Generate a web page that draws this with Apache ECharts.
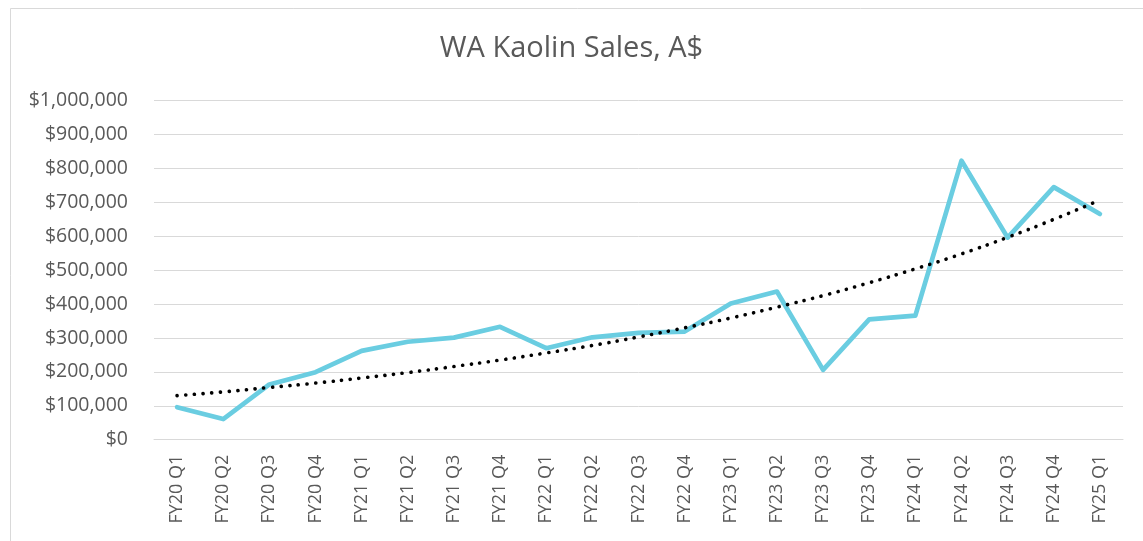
<!DOCTYPE html>
<html>
<head>
<meta charset="utf-8">
<script src="https://cdn.jsdelivr.net/npm/echarts@6/dist/echarts.min.js"></script>
<style>
html,body{margin:0;padding:0;background:#fff;}
#chart{width:1143px;height:541px;}
</style>
</head>
<body>
<div id="chart"></div>
<script>
const categories = ["FY20 Q1","FY20 Q2","FY20 Q3","FY20 Q4","FY21 Q1","FY21 Q2","FY21 Q3","FY21 Q4","FY22 Q1","FY22 Q2","FY22 Q3","FY22 Q4","FY23 Q1","FY23 Q2","FY23 Q3","FY23 Q4","FY24 Q1","FY24 Q2","FY24 Q3","FY24 Q4","FY25 Q1"];
const salesValues = [96000,61000,163000,199000,262000,289000,301000,333000,270000,302000,315000,319000,402000,437000,206000,355000,366000,823000,596000,745000,666000];
const trendValues = [130000,141000,154000,167000,182000,198000,216000,235000,256000,278000,303000,330000,359000,391000,425000,463000,504000,548000,597000,650000,707000];
const yTicks = {min:0, max:1000000, interval:100000};
const titleText = "WA Kaolin Sales, A$";

const chart = echarts.init(document.getElementById('chart'), null, {renderer:'canvas'});
const fmt = v => '$' + v.toLocaleString('en-US');
chart.setOption({
  animation:false,
  backgroundColor:'#fff',
  graphic:[{type:'rect', shape:{x:10.5,y:8.5,width:1140,height:540}, style:{fill:'none',stroke:'#D9D9D9',lineWidth:1}, silent:true}],
  title:{text:titleText, left:'center', top:29, textStyle:{fontFamily:'Open Sans', fontSize:29, fontWeight:'normal', color:'#595959'}},
  grid:{left:154, right:20, top:100.7, bottom:101.3},
  xAxis:{type:'category', data:categories, boundaryGap:true,
    axisLine:{lineStyle:{color:'#D9D9D9', width:1}}, axisTick:{show:false},
    axisLabel:{rotate:90, margin:15, color:'#595959', fontFamily:'Open Sans', fontSize:18, interval:0}},
  yAxis:{type:'value', min:yTicks.min, max:yTicks.max, interval:yTicks.interval,
    axisLine:{show:false}, axisTick:{show:false},
    splitLine:{lineStyle:{color:'#D9D9D9', width:1}},
    axisLabel:{formatter:fmt, margin:26, color:'#595959', fontFamily:'Open Sans', fontSize:19.5}},
  series:[
    {name:'Sales', type:'line', data:salesValues, symbol:'none', z:2,
      lineStyle:{color:'#6ACDE1', width:4.7, join:'round', cap:'round'}},
    {name:'Trend', type:'line', data:trendValues, symbol:'none', smooth:true, z:3,
      lineStyle:{color:'#000', width:3.6, type:[0.1,8.6], cap:'round'}}
  ]
});
</script>
</body>
</html>
